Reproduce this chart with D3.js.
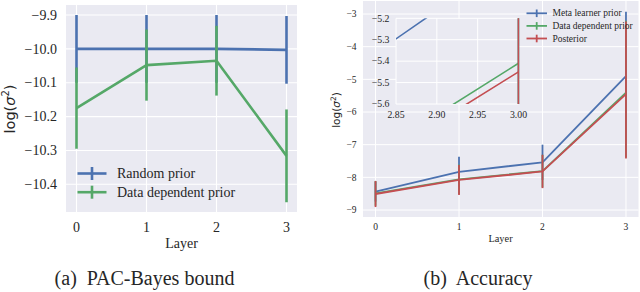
<!DOCTYPE html>
<html><head><meta charset="utf-8">
<script src="https://cdn.jsdelivr.net/npm/d3@7"></script>
<style>
html,body{margin:0;padding:0;background:#fff;}
svg text{font-family:"Liberation Serif","Times New Roman",serif;fill:#262626;}
</style></head>
<body><svg id="c" width="640" height="292"></svg>
<script>
// ---------- data ----------
const layers = [0, 1, 2, 3];
// (a) PAC-Bayes bound
const randomPrior = [-10.0, -10.0, -10.0, -10.003];
const randomPriorErr = [0.1, 0.1, 0.1, 0.1];
const dataPriorA = [-10.175, -10.048, -10.035, -10.316];
const dataPriorAErr = [0.12, 0.105, 0.103, 0.137];
const leftYTicks = [-9.9, -10.0, -10.1, -10.2, -10.3, -10.4];
const leftLegend = ["Random prior", "Data dependent prior"];
// (b) Accuracy
const metaPrior = [-8.44, -7.83, -7.54, -4.90];
const metaPriorErrUp = [0.3, 0.46, 0.54, 1.97];
const metaPriorErrDown = [0.3, 0.46, 0.54, 1.97];
const dataPriorB = [-8.49, -8.06, -7.81, -5.41];
const dataPriorBErrUp = [0.38, 0.45, 0.5, 2.2];
const dataPriorBErrDown = [0.38, 0.45, 0.5, 1.98];
const posterior = [-8.51, -8.08, -7.82, -5.45];
const posteriorErrUp = [0.4, 0.46, 0.51, 2.22];
const posteriorErrDown = [0.4, 0.46, 0.51, 1.97];
const rightYTicks = [-3, -4, -5, -6, -7, -8, -9];
const insetXTicks = [2.85, 2.90, 2.95, 3.00];
const insetYTicks = [-5.2, -5.3, -5.4, -5.5, -5.6];
const rightLegend = ["Meta learner prior", "Data dependent prior", "Posterior"];
const captions = ["(a)  PAC-Bayes bound", "(b)  Accuracy"];

const BLUE = "#4C72B0", GREEN = "#55A868", RED = "#C44E52", BG = "#EAEAF2";
const svg = d3.select("#c");
const fmtMinus = s => s.replace("-", "\u2212");

function drawSeries(g, x, y, xs, vals, up, down, color, lw) {
  const line = d3.line().x((d, i) => x(xs[i])).y(d => y(d));
  g.append("path").datum(vals).attr("d", line).attr("fill", "none")
    .attr("stroke", color).attr("stroke-width", lw).attr("stroke-linejoin", "round");
  g.selectAll(null).data(vals).enter().append("line")
    .attr("x1", (d, i) => x(xs[i])).attr("x2", (d, i) => x(xs[i]))
    .attr("y1", (d, i) => y(d + up[i])).attr("y2", (d, i) => y(d - down[i]))
    .attr("stroke", color).attr("stroke-width", lw);
}

// ================= (a) =================
{
  const x = d3.scaleLinear().domain([-0.15, 3.15]).range([66, 297]);
  const y = d3.scaleLinear().domain([-9.8705, -10.4818]).range([5, 212]);
  const g = svg.append("g");
  g.append("rect").attr("x", 66).attr("y", 5).attr("width", 231).attr("height", 207).attr("fill", BG);
  g.selectAll(null).data(leftYTicks).enter().append("line")
    .attr("x1", 66).attr("x2", 297).attr("y1", d => y(d)).attr("y2", d => y(d))
    .attr("stroke", "#fff").attr("stroke-width", 1.1);
  g.selectAll(null).data(layers).enter().append("line")
    .attr("y1", 5).attr("y2", 212).attr("x1", d => x(d)).attr("x2", d => x(d))
    .attr("stroke", "#fff").attr("stroke-width", 1.1);
  g.selectAll(null).data(leftYTicks).enter().append("text")
    .attr("x", 57).attr("y", d => y(d)).attr("dy", "0.34em").attr("text-anchor", "end")
    .attr("font-size", 14).text(d => fmtMinus(d3.format(".1f")(d)));
  g.selectAll(null).data(layers).enter().append("text")
    .attr("x", d => x(d)).attr("y", 232).attr("text-anchor", "middle")
    .attr("font-size", 14).text(d => d);
  g.append("text").attr("x", 181.5).attr("y", 247.5).attr("text-anchor", "middle")
    .attr("font-size", 14).text("Layer");
  g.append("text").attr("transform", "translate(15,109) rotate(-90)")
    .attr("text-anchor", "middle").attr("font-size", 14.5)
    .style("font-family", "'DejaVu Sans',sans-serif")
    .html('log(<tspan font-style="italic">σ</tspan><tspan dy="-6" font-size="10">2</tspan><tspan dy="6">)</tspan>');
  const plot = g.append("g");
  drawSeries(plot, x, y, layers, randomPrior, randomPriorErr, randomPriorErr, BLUE, 2.6);
  drawSeries(plot, x, y, layers, dataPriorA, dataPriorAErr, dataPriorAErr, GREEN, 2.6);
  // legend
  const cols = [BLUE, GREEN];
  leftLegend.forEach((t, i) => {
    const cy = 173.5 + i * 18.7;
    g.append("line").attr("x1", 77.5).attr("x2", 106.5).attr("y1", cy).attr("y2", cy)
      .attr("stroke", cols[i]).attr("stroke-width", 2.6);
    g.append("line").attr("x1", 92).attr("x2", 92).attr("y1", cy - 6.5).attr("y2", cy + 6.5)
      .attr("stroke", cols[i]).attr("stroke-width", 2.6);
    g.append("text").attr("x", 117).attr("y", cy).attr("dy", "0.33em")
      .attr("font-size", 14).text(t);
  });
  g.append("text").attr("x", 144.5).attr("y", 285).attr("text-anchor", "middle")
    .attr("font-size", 20).style("white-space", "pre").text(captions[0]);
}

// ================= (b) =================
{
  const x = d3.scaleLinear().domain([-0.15, 3.15]).range([363, 638.5]);
  const y = d3.scaleLinear().domain([-2.602, -9.214]).range([1, 217]);
  const g = svg.append("g");
  g.append("rect").attr("x", 363).attr("y", 1).attr("width", 275.5).attr("height", 216).attr("fill", BG);
  g.selectAll(null).data(rightYTicks).enter().append("line")
    .attr("x1", 363).attr("x2", 638.5).attr("y1", d => y(d)).attr("y2", d => y(d))
    .attr("stroke", "#fff").attr("stroke-width", 1);
  g.selectAll(null).data(layers).enter().append("line")
    .attr("y1", 1).attr("y2", 217).attr("x1", d => x(d)).attr("x2", d => x(d))
    .attr("stroke", "#fff").attr("stroke-width", 1);
  g.selectAll(null).data(rightYTicks).enter().append("text")
    .attr("x", 356.5).attr("y", d => y(d)).attr("dy", "0.34em").attr("text-anchor", "end")
    .attr("font-size", 9.5).text(d => fmtMinus(String(d)));
  g.selectAll(null).data(layers).enter().append("text")
    .attr("x", d => x(d)).attr("y", 229.8).attr("text-anchor", "middle")
    .attr("font-size", 9.5).text(d => d);
  g.append("text").attr("x", 500.5).attr("y", 242).attr("text-anchor", "middle")
    .attr("font-size", 10.4).text("Layer");
  g.append("text").attr("transform", "translate(340,110) rotate(-90)")
    .attr("text-anchor", "middle").attr("font-size", 10.5)
    .style("font-family", "'DejaVu Sans',sans-serif")
    .html('log(<tspan font-style="italic">σ</tspan><tspan dy="-4" font-size="7.5">2</tspan><tspan dy="4">)</tspan>');
  const plot = g.append("g");
  drawSeries(plot, x, y, layers, metaPrior, metaPriorErrUp, metaPriorErrDown, BLUE, 1.8);
  drawSeries(plot, x, y, layers, dataPriorB, dataPriorBErrUp, dataPriorBErrDown, GREEN, 1.8);
  drawSeries(plot, x, y, layers, posterior, posteriorErrUp, posteriorErrDown, RED, 1.8);

  // legend
  const cols = [BLUE, GREEN, RED];
  rightLegend.forEach((t, i) => {
    const cy = 13.3 + i * 12.6;
    g.append("line").attr("x1", 526.5).attr("x2", 547).attr("y1", cy).attr("y2", cy)
      .attr("stroke", cols[i]).attr("stroke-width", 1.8);
    g.append("line").attr("x1", 536.7).attr("x2", 536.7).attr("y1", cy - 3.8).attr("y2", cy + 3.8)
      .attr("stroke", cols[i]).attr("stroke-width", 1.8);
    g.append("text").attr("x", 552.5).attr("y", cy).attr("dy", "0.33em")
      .attr("font-size", 9.5).text(t);
  });

  // inset
  const ix = d3.scaleLinear().domain([2.85, 3.0]).range([396, 518.5]);
  const iy = d3.scaleLinear().domain([-5.2, -5.6]).range([18.3, 104]);
  const ig = g.append("g");
  ig.append("rect").attr("x", 396).attr("y", 18.3).attr("width", 122.5).attr("height", 85.7).attr("fill", BG);
  ig.selectAll(null).data(insetYTicks).enter().append("line")
    .attr("x1", 396).attr("x2", 518.5).attr("y1", d => iy(d)).attr("y2", d => iy(d))
    .attr("stroke", "#fff").attr("stroke-width", 1);
  ig.selectAll(null).data(insetXTicks).enter().append("line")
    .attr("y1", 18.3).attr("y2", 104).attr("x1", d => ix(d)).attr("x2", d => ix(d))
    .attr("stroke", "#fff").attr("stroke-width", 1);
  ig.selectAll(null).data(insetYTicks).enter().append("text")
    .attr("x", 389.5).attr("y", d => iy(d)).attr("dy", "0.34em").attr("text-anchor", "end")
    .attr("font-size", 9.8).text(d => fmtMinus(d3.format(".1f")(d)));
  ig.selectAll(null).data(insetXTicks).enter().append("text")
    .attr("x", d => ix(d)).attr("y", 118.3).attr("text-anchor", "middle")
    .attr("font-size", 9.8).text(d => d3.format(".2f")(d));
  svg.append("clipPath").attr("id", "insetClip").append("rect")
    .attr("x", 396).attr("y", 18.3).attr("width", 123.5).attr("height", 85.7);
  const ip = ig.append("g").attr("clip-path", "url(#insetClip)");
  drawSeries(ip, ix, iy, layers, metaPrior, metaPriorErrUp, metaPriorErrDown, BLUE, 1.6);
  drawSeries(ip, ix, iy, layers, dataPriorB, dataPriorBErrUp, dataPriorBErrDown, GREEN, 1.6);
  drawSeries(ip, ix, iy, layers, posterior, posteriorErrUp, posteriorErrDown, RED, 1.6);

  g.append("text").attr("x", 478).attr("y", 285).attr("text-anchor", "middle")
    .attr("font-size", 20).style("white-space", "pre").text(captions[1]);
}
</script></body></html>
